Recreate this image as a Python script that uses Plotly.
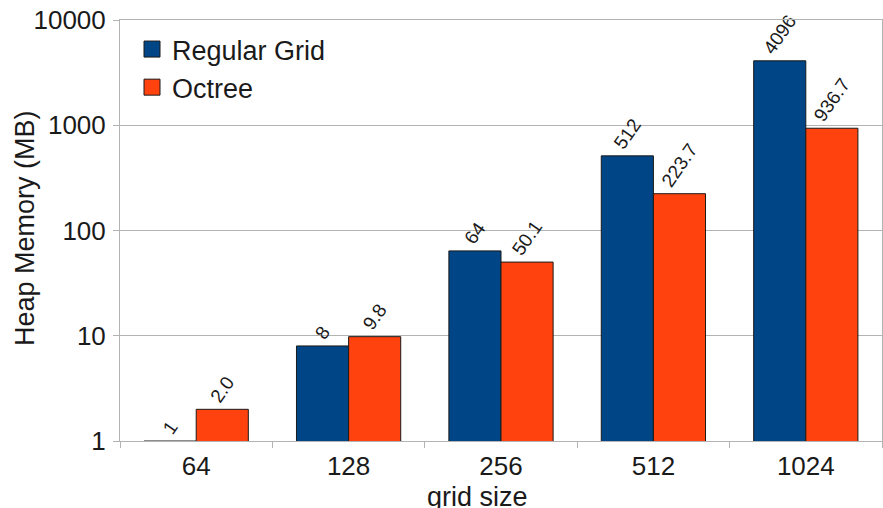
import plotly.graph_objects as go

categories = ["64", "128", "256", "512", "1024"]
regular_grid = [1, 8, 64, 512, 4096]
octree = [2.0, 9.8, 50.1, 223.7, 936.7]
regular_labels = ["1", "8", "64", "512", "4096"]
octree_labels = ["2.0", "9.8", "50.1", "223.7", "936.7"]
y_tickvals = [1, 10, 100, 1000, 10000]
y_ticktext = ["1", "10", "100", "1000", "10000"]

BLUE = "#004586"
ORANGE = "#ff420e"
FONT = "Liberation Sans, Arial, sans-serif"
TXT = "#1a1a1a"
GRID = "#b3b3b3"

W, H = 883, 508
ML, MR, MT, MB = 120, 1, 20, 67
PW, PH = W - ML - MR, H - MT - MB

fig = go.Figure()
fig.add_trace(go.Bar(
    x=categories, y=regular_grid, name="Regular Grid",
    marker=dict(color=BLUE, line=dict(color=TXT, width=1)),
    text=regular_labels, textposition="outside", textangle=-55,
    constraintext="none", cliponaxis=False,
    textfont=dict(size=19, color=TXT, family=FONT),
    showlegend=False,
))
fig.add_trace(go.Bar(
    x=categories, y=octree, name="Octree",
    marker=dict(color=ORANGE, line=dict(color=TXT, width=1)),
    text=octree_labels, textposition="outside", textangle=-55,
    constraintext="none", cliponaxis=False,
    textfont=dict(size=19, color=TXT, family=FONT),
    showlegend=False,
))
for nm, col in [("Regular Grid", BLUE), ("Octree", ORANGE)]:
    fig.add_trace(go.Scatter(
        x=[None], y=[None], mode="markers", name=nm,
        marker=dict(symbol="square", size=17, color=col,
                    line=dict(color=TXT, width=1)),
        showlegend=True,
    ))

def px_x(p):
    return (p - ML) / PW

def px_y(p):
    return 1 - (p - MT) / PH

fig.update_layout(
    width=W, height=H,
    margin=dict(l=ML, r=MR, t=MT, b=MB),
    paper_bgcolor="white", plot_bgcolor="white",
    barmode="group", bargap=0.316, bargroupgap=0,
    font=dict(family=FONT, size=26, color=TXT),
    legend=dict(x=px_x(132), y=px_y(25), xanchor="left", yanchor="top",
                bgcolor="rgba(0,0,0,0)", font=dict(size=27),
                itemsizing="trace", tracegroupgap=0),
    annotations=[
        dict(text="grid size", xref="paper", yref="paper",
             x=px_x(477), y=px_y(497), xanchor="center", yanchor="middle",
             showarrow=False, font=dict(size=27, color=TXT, family=FONT)),
        dict(text="Heap Memory (MB)", xref="paper", yref="paper",
             x=px_x(25), y=px_y(228), xanchor="center", yanchor="middle",
             textangle=-90, showarrow=False,
             font=dict(size=27, color=TXT, family=FONT)),
    ],
)
fig.update_xaxes(
    type="category", tickson="boundaries", ticks="outside", ticklen=6,
    tickcolor=GRID, showline=True, linecolor=GRID, mirror=True,
    showgrid=False, tickfont=dict(size=26), automargin=False,
    ticklabelstandoff=2,
)
fig.update_yaxes(
    type="log", range=[0, 4], tickvals=y_tickvals, ticktext=y_ticktext,
    ticks="outside", ticklen=6, tickcolor=GRID,
    showline=True, linecolor=GRID, mirror=True,
    showgrid=True, gridcolor=GRID, gridwidth=1,
    tickfont=dict(size=26), zeroline=False, automargin=False,
    ticklabelstandoff=2,
)

fig.write_html(
    "out.html",
    config={"displayModeBar": False},
    post_script="document.body.style.margin='0';document.body.style.overflow='hidden';",
)
